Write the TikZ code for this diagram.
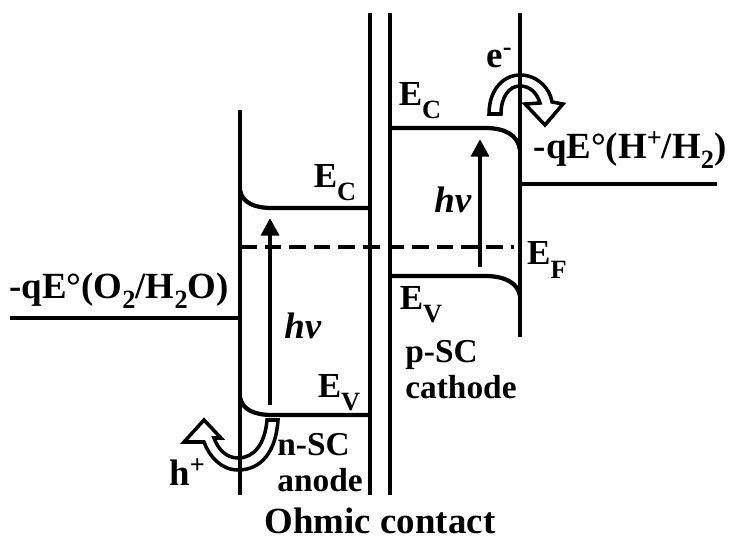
\documentclass[tikz,border=0pt]{standalone}
\usepackage{fontspec}
\setmainfont{Liberation Serif}
\usepackage{tikz}
\usetikzlibrary{arrows.meta}
\newcommand{\lowtxt}[2][5.5pt]{\raisebox{-#1}{\fontsize{15}{15}\selectfont #2}}
\newcommand{\hightxt}[1]{\raisebox{7pt}{\fontsize{15}{15}\selectfont #1}}

\begin{document}
\begin{tikzpicture}[
  x=0.02cm,y=-0.02cm,
  every node/.style={font=\fontsize{21}{23}\selectfont\bfseries,inner sep=0pt},
  band/.style={line width=2.4pt},
  wall/.style={line width=2.7pt},
  level/.style={line width=2.8pt},
  fermi/.style={line width=2.4pt,dash pattern=on 9.5pt off 4.5pt},
  photon/.style={-{Triangle[length=10pt,width=10pt]},line width=2.8pt},
  carrier/.style={fill=white,draw=black,line width=2pt,line join=miter},
  edge/.style={font=\fontsize{20}{22}\selectfont\bfseries},
  stack/.style={align=left,font=\fontsize{19}{20.5}\selectfont\bfseries}
]
  \useasboundingbox (0,0) rectangle (730,540);

  % Hollow carrier-transfer arrows sit under the interface lines.
  \draw[carrier] (278,420) .. controls (276,452) and (261,470) .. (238,470)
    .. controls (221,470) and (209,456) .. (204,442) -- (184,442) -- (204,420)
    -- (221,438) -- (214,438) .. controls (218,449) and (226,458) .. (238,458)
    .. controls (254,458) and (265,444) .. (267,420) -- cycle;
  \draw[carrier] (489,114) .. controls (489,89) and (504,75) .. (520,75)
    .. controls (537,75) and (550,88) .. (552,102) -- (563,104) -- (545,125)
    -- (525,104) -- (540,103) .. controls (537,93) and (530,86) .. (520,86)
    .. controls (509,86) and (501,97) .. (501,114) -- cycle;

  % Semiconductor / electrolyte interfaces and the ohmic contact.
  \draw[wall] (240,110) -- (240,495);
  \draw[wall] (370,13) -- (370,495);
  \draw[wall] (390,13) -- (390,495);
  \draw[wall] (520,13) -- (520,337);

  % Redox levels in the electrolyte.
  \draw[level] (10,318) -- (240,318);
  \draw[level] (520,184) -- (717,184);

  % Band edges bend at the electrolyte side.
  \draw[band] (240,190) .. controls (242,203) and (255,208) .. (272,208) -- (370,208);
  \draw[band] (240,397) .. controls (242,410) and (255,415) .. (272,415) -- (370,415);
  \draw[band] (390,128) -- (485,128) .. controls (505,128) and (518,135) .. (520,150);
  \draw[band] (390,276) -- (485,276) .. controls (505,276) and (518,283) .. (520,296);
  \draw[fermi] (240,247) -- (514,247);

  % Photon absorption in both electrodes.
  \coordinate (vbAnode) at (270,405);
  \coordinate (cbAnode) at (270,218);
  \coordinate (vbCathode) at (480,267);
  \coordinate (cbCathode) at (480,139);
  \draw[photon] (vbAnode) -- (cbAnode);
  \draw[photon] (vbCathode) -- (cbCathode);

  \node (hvAnode) at (303,326) {\textit{hv}};
  \node (hvCathode) at (453,200) {\textit{hv}};
  \node[edge] (ecAnode) at (335,183) {E\lowtxt[7.5pt]{C}};
  \node[edge] (evAnode) at (339,393) {E\lowtxt[7.5pt]{V}};
  \node[edge] (ecCathode) at (420,101) {E\lowtxt[7.5pt]{C}};
  \node[edge] (evCathode) at (421,305) {E\lowtxt[7.5pt]{V}};
  \node[edge] (fermiLabel) at (547,260) {E\lowtxt[7.5pt]{F}};
  \node (oxLevel) at (119,291) {-qE°(O\lowtxt{2}/H\lowtxt{2}O)};
  \node (redLevel) at (630,150) {-qE°(H\hightxt{+}/H\lowtxt{2})};
  \node[stack,anchor=west] (anode) at (277,463) {n-SC\\anode};
  \node[stack,anchor=west] (cathode) at (405,370) {p-SC\\cathode};
  \node (hole) at (187,472) {h\hightxt{+}};
  \node (electron) at (499,58) {e\hightxt{-}};
  \node (ohmic) at (380,521) {Ohmic contact};
\end{tikzpicture}
\end{document}
